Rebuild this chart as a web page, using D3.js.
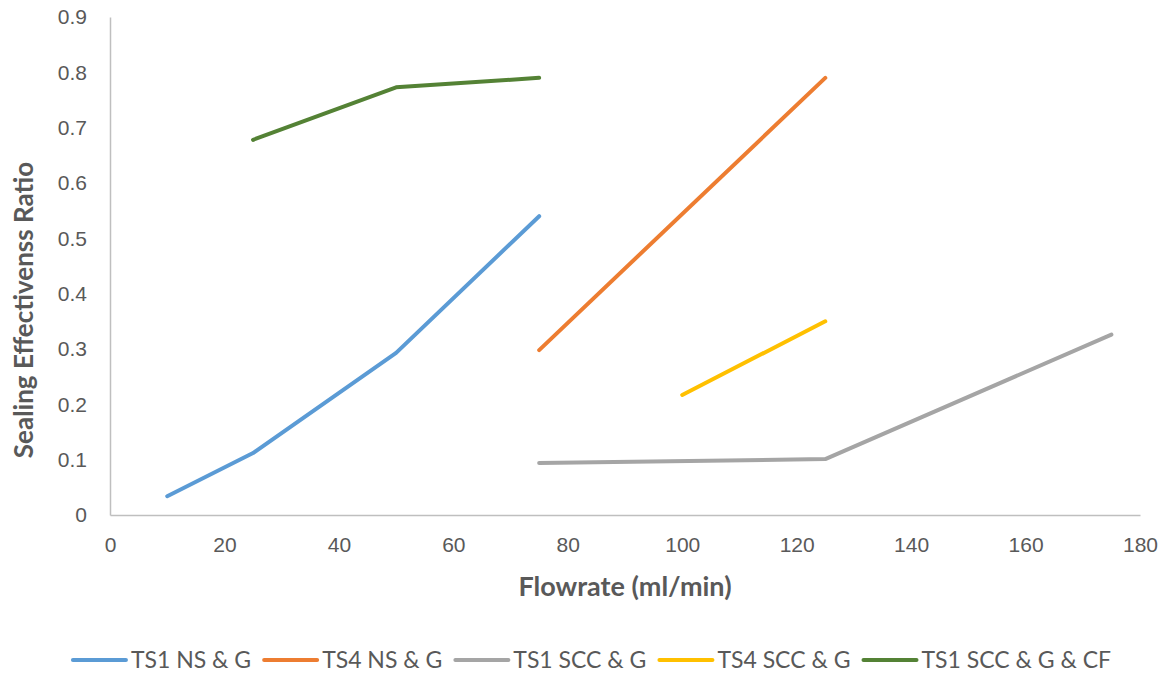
<!DOCTYPE html>
<html>
<head>
<meta charset="utf-8">
<script src="https://cdn.jsdelivr.net/npm/d3@7"></script>
<style>
  html, body { margin: 0; padding: 0; background: #fff; }
  svg { display: block; font-family: Lato, "Open Sans", sans-serif; }
</style>
</head>
<body>
<svg id="chart" width="1173" height="674"></svg>
<script>
// Series data: flowrate (ml/min) vs sealing effectiveness ratio
const seriesNames = ["TS1 NS & G", "TS4 NS & G", "TS1 SCC & G", "TS4 SCC & G", "TS1 SCC & G & CF"];
const seriesColors = ["#5B9BD5", "#ED7D31", "#A5A5A5", "#FFC000", "#548235"];

const ts1NsFlow = [10, 25, 50, 75];
const ts1NsRatio = [0.034, 0.112, 0.293, 0.540];

const ts4NsFlow = [75, 125];
const ts4NsRatio = [0.298, 0.790];

const ts1SccFlow = [75, 125, 175];
const ts1SccRatio = [0.094, 0.101, 0.326];

const ts4SccFlow = [100, 125];
const ts4SccRatio = [0.217, 0.350];

const ts1SccCfFlow = [25, 50, 75];
const ts1SccCfRatio = [0.678, 0.773, 0.790];

const xTicks = [0, 20, 40, 60, 80, 100, 120, 140, 160, 180];
const yTicks = [0, 0.1, 0.2, 0.3, 0.4, 0.5, 0.6, 0.7, 0.8, 0.9];

const flows = [ts1NsFlow, ts4NsFlow, ts1SccFlow, ts4SccFlow, ts1SccCfFlow];
const ratios = [ts1NsRatio, ts4NsRatio, ts1SccRatio, ts4SccRatio, ts1SccCfRatio];
const series = seriesNames.map((name, i) => ({
  name,
  color: seriesColors[i],
  points: flows[i].map((f, j) => ({ x: f, y: ratios[i][j] }))
}));

const svg = d3.select("#chart");
const margin = { left: 110, right: 33, top: 17, bottom: 159 };
const W = 1173, H = 674;
const innerW = W - margin.left - margin.right;
const innerH = H - margin.top - margin.bottom;

const x = d3.scaleLinear().domain([0, 180]).range([margin.left, margin.left + innerW]);
const y = d3.scaleLinear().domain([0, 0.9]).range([margin.top + innerH, margin.top]);

const textColor = "#595959";
const axisColor = "#BFBFBF";

// X axis
const xAxis = svg.append("g")
  .attr("transform", `translate(0,${y(0)})`)
  .call(d3.axisBottom(x).tickValues(xTicks).tickSize(0).tickPadding(22).tickFormat(d3.format("d")));
xAxis.select(".domain").attr("stroke", axisColor).attr("stroke-width", 1.5);
xAxis.selectAll("text").attr("fill", textColor).style("font-size", "21px");

// Y axis
const yAxis = svg.append("g")
  .attr("transform", `translate(${x(0)},0)`)
  .call(d3.axisLeft(y).tickValues(yTicks).tickSize(0).tickPadding(23).tickFormat(d => d === 0 ? "0" : d3.format(".1f")(d)));
yAxis.select(".domain").attr("stroke", axisColor).attr("stroke-width", 1.5);
yAxis.selectAll("text").attr("fill", textColor).style("font-size", "21px");

// Axis titles
svg.append("text")
  .attr("x", (x(0) + x(180)) / 2)
  .attr("y", 596)
  .attr("text-anchor", "middle")
  .attr("fill", textColor)
  .style("font-size", "27px")
  .style("font-weight", "bold")
  .text("Flowrate (ml/min)");

svg.append("text")
  .attr("transform", `translate(33,${(y(0) + y(0.9)) / 2 + 44}) rotate(-90)`)
  .attr("text-anchor", "middle")
  .attr("fill", textColor)
  .style("font-size", "26px")
  .style("font-weight", "bold")
  .text("Sealing Effectivenss Ratio");

// Lines
const line = d3.line().x(d => x(d.x)).y(d => y(d.y));
svg.append("g").selectAll("path")
  .data(series)
  .join("path")
  .attr("d", d => line(d.points))
  .attr("fill", "none")
  .attr("stroke", d => d.color)
  .attr("stroke-width", 4)
  .attr("stroke-linecap", "round")
  .attr("stroke-linejoin", "round");

// Legend, laid out from measured text widths and centred
const legend = svg.append("g");
const swatchLen = 53, swatchGap = 5, itemGap = 13, legendY = 660;
let cursor = 0;
series.forEach(s => {
  const g = legend.append("g");
  g.append("line")
    .attr("x1", 0).attr("x2", swatchLen)
    .attr("y1", 0).attr("y2", 0)
    .attr("stroke", s.color).attr("stroke-width", 4).attr("stroke-linecap", "round");
  const t = g.append("text")
    .attr("x", swatchLen + swatchGap)
    .attr("dy", "0.36em")
    .attr("fill", textColor)
    .style("font-size", "23px")
    .text(s.name);
  const w = swatchLen + swatchGap + t.node().getComputedTextLength();
  g.attr("transform", `translate(${cursor},${legendY})`);
  cursor += w + itemGap;
});
const totalW = cursor - itemGap;
legend.attr("transform", `translate(${592 - totalW / 2},0)`);
</script>
</body>
</html>
